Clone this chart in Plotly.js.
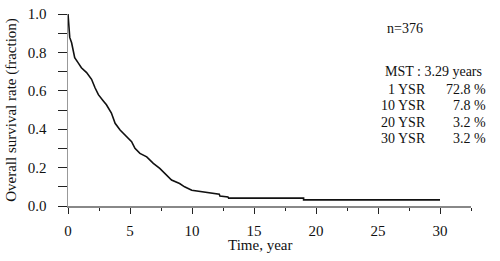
<!DOCTYPE html>
<html>
<head>
<meta charset="utf-8">
<script src="https://cdn.plot.ly/plotly-3.0.1.min.js"></script>
<style>
  body { margin: 0; background: #fff; }
  #plotArea { width: 500px; height: 261px; }
</style>
</head>
<body>
<div id="plotArea"></div>
<script>
// Kaplan-Meier curve, values
var timeYears = [0, 0.03, 0.08, 0.14, 0.29, 0.4, 0.54, 0.81, 1.08, 1.5, 1.9, 2.18, 2.45, 2.85, 3.1, 3.5,
    3.8, 4.2, 4.73, 5.13, 5.4, 5.8, 6.35, 6.88, 7.4, 7.8, 8.35, 9.0, 9.4, 9.98, 10.9, 11.7, 12.2, 12.25,
    12.9, 12.95, 19.0, 19.0, 30];
var survival = [1.0, 0.96, 0.93, 0.878, 0.85, 0.81, 0.773, 0.747, 0.72, 0.695, 0.66, 0.616, 0.58, 0.547, 0.527, 0.484,
    0.431, 0.396, 0.361, 0.335, 0.30, 0.274, 0.256, 0.222, 0.196, 0.17, 0.135, 0.117, 0.10, 0.082, 0.073, 0.065, 0.062, 0.052,
    0.047, 0.041, 0.041, 0.032, 0.032];

var nLabel = "n=376";
var mstLabel = "MST : 3.29 years";
var ysrLabels = ["1 YSR", "10 YSR", "20 YSR", "30 YSR"];
var ysrValues = ["72.8 %", "7.8 %", "3.2 %", "3.2 %"];

var serif = "Liberation Serif, Times New Roman, serif";

var trace = [{
    x: timeYears,
    y: survival,
    mode: "lines",
    line: {color: "#111", width: 1.6},
    type: "scatter",
    hoverinfo: "none"
}];

var notes = [
    {text: nLabel, x: 0.787, y: 0.922, xanchor: "left"},
    {text: mstLabel, x: 0.782, y: 0.703, xanchor: "left"}
];
var rowY = [0.609, 0.525, 0.437, 0.353];
ysrLabels.forEach(function(lab, i) {
    notes.push({text: lab, x: 0.893, y: rowY[i], xanchor: "right"});
    notes.push({text: ysrValues[i], x: 1.042, y: rowY[i], xanchor: "right"});
});
notes = notes.map(function(n) {
    n.font = {family: serif, size: 14, color: "#111"};
    return n;
});
// x axis title placed by hand (it sits left of the plot centre)
notes.push({text: "Time, year", x: 0.476, y: -0.205, xanchor: "center",
    font: {family: serif, size: 15, color: "#111"}});
notes = notes.map(function(n) {
    n.xref = "paper"; n.yref = "paper"; n.yanchor = "middle";
    n.showarrow = false;
    return n;
});

var layout = {
    width: 500,
    height: 261,
    margin: {l: 68, r: 29, t: 14, b: 55},
    paper_bgcolor: "#fff",
    plot_bgcolor: "#fff",
    showlegend: false,
    font: {family: serif, size: 15, color: "#111"},
    xaxis: {
        range: [0, 32.5],
        tickvals: [0, 5, 10, 15, 20, 25, 30],
        ticks: "outside",
        ticklen: 6,
        tickcolor: "#222",
        showline: true,
        linecolor: "#888",
        linewidth: 1.5,
        showgrid: false,
        zeroline: false,
        ticklabelstandoff: 4,
        tickfont: {family: serif, size: 15},
        minor: {dtick: 2.5, tick0: 0, ticks: "outside", ticklen: 3, tickcolor: "#222", showgrid: false}
    },
    yaxis: {
        title: {text: "Overall survival rate (fraction)", font: {family: serif, size: 15}, standoff: 7},
        range: [0, 1],
        tickvals: [0, 0.2, 0.4, 0.6, 0.8, 1.0],
        tickformat: ".1f",
        ticks: "outside",
        ticklen: 9,
        tickcolor: "#222",
        showline: true,
        linecolor: "#999",
        linewidth: 1.5,
        showgrid: false,
        zeroline: false,
        ticklabelstandoff: 8,
        tickfont: {family: serif, size: 15},
        minor: {dtick: 0.1, tick0: 0, ticks: "outside", ticklen: 9, tickcolor: "#222", showgrid: false}
    },
    annotations: notes
};

Plotly.newPlot("plotArea", trace, layout, {staticPlot: true});
</script>
</body>
</html>
